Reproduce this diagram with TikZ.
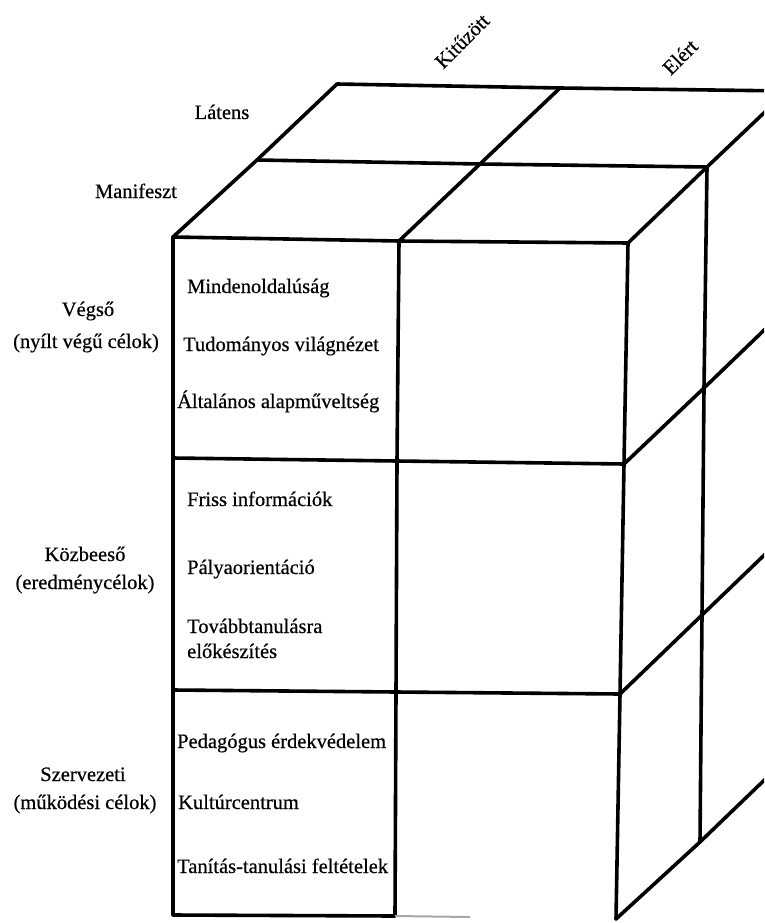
\documentclass[tikz,border=0pt]{standalone}
\usepackage{fontspec}
\setmainfont{Liberation Serif}[FakeBold=0.5]
\begin{document}
\begin{tikzpicture}[x=1pt,y=-1pt,
  edge/.style={line width=3.6pt, line cap=round, line join=round},
  faint/.style={line width=2pt, draw=black!35},
  lbl/.style={inner sep=0pt, font=\fontsize{20.5}{24}\selectfont},
  cell/.style={lbl, anchor=base west},
  side/.style={lbl, anchor=base},
  head/.style={lbl, anchor=center, rotate=45}]
\useasboundingbox (0,0) rectangle (764,923);
\clip (0,0) rectangle (764,923);
% front face corners
\coordinate (FTL) at (173,237);
\coordinate (FTM) at (399,241);
\coordinate (FTR) at (628,243);
\coordinate (F1L) at (173,458);
\coordinate (F1M) at (397,461);
\coordinate (F1R) at (624,464);
\coordinate (F2L) at (173,690);
\coordinate (F2M) at (396,692);
\coordinate (F2R) at (620,694);
\coordinate (FBL) at (173,915);
\coordinate (FBM) at (395,916);
\coordinate (FBF) at (470,917);
\coordinate (FBR) at (616,919);
% top face
\coordinate (ML) at (257,160);
\coordinate (MM) at (480,164);
\coordinate (MR) at (707,167);
\coordinate (BL) at (337,84);
\coordinate (BM) at (560,88);
\coordinate (BR) at (787,91);
% right face
\coordinate (R1M) at (704,388);
\coordinate (R1B) at (784,311);
\coordinate (R2M) at (702,615);
\coordinate (R2B) at (782,538);
\coordinate (RBM) at (700,842);
\coordinate (RBB) at (780,765);

% front face
\draw[edge] (FBL) -- (FTL) -- (FTM) -- (FTR) -- (F1R) -- (F2R) -- (FBR);
\draw[edge] (FTM) -- (F1M) -- (F2M) -- (FBM);
\draw[edge] (F1L) -- (F1M) -- (F1R);
\draw[edge] (F2L) -- (F2M) -- (F2R);
\draw[edge] (FBL) -- (FBM);
\draw[faint] (FBM) -- (FBF);
% top face
\draw[edge] (FTL) -- (ML) -- (BL) -- (BM) -- (BR);
\draw[edge] (ML) -- (MM) -- (MR);
\draw[edge] (FTM) -- (MM) -- (BM);
\draw[edge] (FTR) -- (MR) -- (BR);
% right face
\draw[edge] (MR) -- (R1M) -- (R2M) -- (RBM);
\draw[edge] (F1R) -- (R1M) -- (R1B);
\draw[edge] (F2R) -- (R2M) -- (R2B);
\draw[edge] (FBR) -- (RBM) -- (RBB);

% headings
\node[head] (kit) at (462,41) {Kitűzött};
\node[head] (elert) at (680,57) {Elért};
\node[side] (latens) at (222,119) {Látens};
\node[side] (manif) at (136,198) {Manifeszt};

% row labels
\node[side] (vegso) at (88,316) {Végső};
\node[side] (vegso2) at (86,348) {(nyílt végű célok)};
\node[side] (kozb) at (85,561) {Közbeeső};
\node[side] (kozb2) at (85,589) {(eredménycélok)};
\node[side] (szerv) at (83,781) {Szervezeti};
\node[side] (szerv2) at (85,809) {(működési célok)};

% cell texts
\node[cell] (c11) at (187,293) {Mindenoldalúság};
\node[cell] (c12) at (183,351) {Tudományos világnézet};
\node[cell] (c13) at (177,408) {Általános alapműveltség};
\node[cell] (c21) at (187,506) {Friss információk};
\node[cell] (c22) at (187,574) {Pályaorientáció};
\node[cell] (c23) at (187,633) {Továbbtanulásra};
\node[cell] (c24) at (187,658) {előkészítés};
\node[cell] (c31) at (177,748) {Pedagógus érdekvédelem};
\node[cell] (c32) at (178,809) {Kultúrcentrum};
\node[cell] (c33) at (177,873) {Tanítás-tanulási feltételek};
\end{tikzpicture}
\end{document}
